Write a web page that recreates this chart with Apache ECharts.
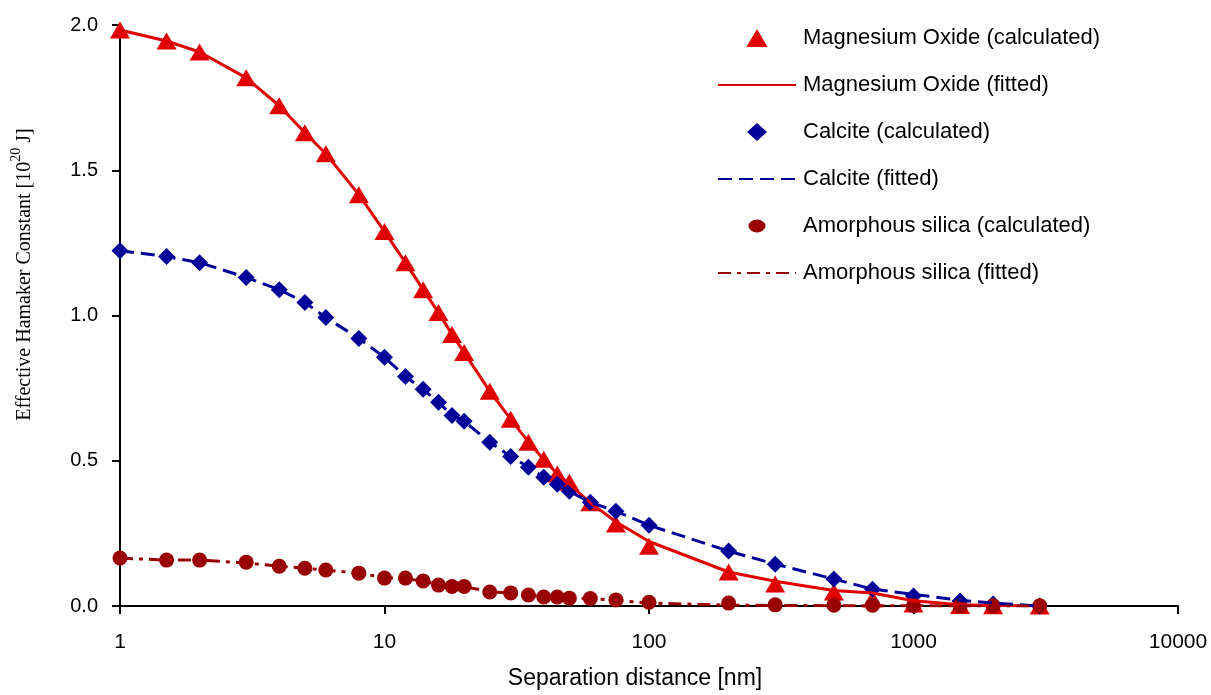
<!DOCTYPE html>
<html>
<head>
<meta charset="utf-8">
<script src="https://cdn.jsdelivr.net/npm/echarts@6/dist/echarts.min.js"></script>
<style>
  html, body { margin: 0; padding: 0; background: #fff; }
  #chart { width: 1211px; height: 695px; }
</style>
</head>
<body>
<div id="chart"></div>
<script>
// separation distance [nm]
var distances = [1, 1.5, 2, 3, 4, 5, 6, 8, 10, 12, 14, 16, 18, 20, 25, 30, 35, 40, 45, 50, 60, 75, 100, 200, 300, 500, 700, 1000, 1500, 2000, 3000];

// effective Hamaker constant [10^20 J]
var mgoCalc = [1.983, 1.945, 1.907, 1.818, 1.722, 1.629, 1.557, 1.416, 1.289, 1.182, 1.089, 1.010, 0.935, 0.873, 0.739, 0.643, 0.564, 0.505, 0.454, 0.426, 0.355, 0.282, 0.206, 0.117, 0.076, 0.048, 0.024, 0.007, 0.002, 0.001, 0.000];
var mgoFit = [1.983, 1.945, 1.907, 1.818, 1.722, 1.629, 1.557, 1.416, 1.289, 1.182, 1.089, 1.010, 0.935, 0.873, 0.739, 0.643, 0.564, 0.505, 0.454, 0.420, 0.355, 0.290, 0.222, 0.117, 0.085, 0.053, 0.045, 0.018, 0.004, 0.002, 0.001];
var calciteCalc = [1.223, 1.203, 1.182, 1.131, 1.089, 1.045, 0.993, 0.921, 0.856, 0.790, 0.746, 0.701, 0.656, 0.636, 0.564, 0.515, 0.478, 0.443, 0.419, 0.395, 0.357, 0.326, 0.278, 0.189, 0.144, 0.093, 0.058, 0.034, 0.017, 0.007, 0.000];
var calciteFit = [1.223, 1.203, 1.182, 1.131, 1.089, 1.045, 0.993, 0.921, 0.856, 0.790, 0.746, 0.701, 0.656, 0.636, 0.564, 0.515, 0.478, 0.443, 0.419, 0.395, 0.357, 0.326, 0.278, 0.189, 0.144, 0.093, 0.058, 0.040, 0.020, 0.010, 0.000];
var silicaCalc = [0.165, 0.158, 0.158, 0.151, 0.137, 0.130, 0.124, 0.113, 0.096, 0.096, 0.086, 0.072, 0.067, 0.067, 0.048, 0.045, 0.038, 0.031, 0.031, 0.027, 0.026, 0.021, 0.013, 0.010, 0.004, 0.003, 0.003, 0.002, 0.001, 0.001, 0.001];
var silicaFit = [0.165, 0.158, 0.158, 0.148, 0.137, 0.130, 0.124, 0.113, 0.098, 0.094, 0.086, 0.074, 0.068, 0.066, 0.050, 0.044, 0.038, 0.032, 0.030, 0.027, 0.025, 0.020, 0.010, 0.003, 0.002, 0.001, 0.001, 0.001, 0.000, 0.000, 0.000];

var xTicks = [1, 10, 100, 1000, 10000];
var yTicks = ['0.0', '0.5', '1.0', '1.5', '2.0'];

var RED = '#e00000';
var BLUE = '#000099';
var DARKRED = '#990000';

// legend marker shapes (move-to points pad the box so keepAspect gives the right size)
var ICON_TRI = 'path://M10,1L20,18L0,18Z';
var ICON_DIA = 'path://M10,0L20,9L10,18L0,9Z';
var ICON_DOT = 'path://M0,0M18,18M0.5,9A8.5,6.5 0 1,0 17.5,9A8.5,6.5 0 1,0 0.5,9Z';
var NO_MARK = { color: 'rgba(0,0,0,0)', borderColor: 'rgba(0,0,0,0)', borderWidth: 0 };

function pairs(arr) {
  return distances.map(function (d, i) { return [d, arr[i]]; });
}

var chart = echarts.init(document.getElementById('chart'));

var option = {
  animation: false,
  backgroundColor: '#fff',
  grid: { left: 120, right: 33, top: 25, bottom: 88, containLabel: false },
  legend: {
    orient: 'vertical',
    left: 712,
    top: 22,
    itemWidth: 78,
    itemHeight: 18,
    itemGap: 25,
    symbolKeepAspect: true,
    textStyle: {
      fontFamily: 'Liberation Sans, Arial, sans-serif',
      fontSize: 22,
      color: '#000',
      padding: [0, 0, 0, 2]
    },
    data: [
      { name: 'Magnesium Oxide (calculated)', icon: ICON_TRI },
      { name: 'Magnesium Oxide (fitted)', itemStyle: NO_MARK },
      { name: 'Calcite (calculated)', icon: ICON_DIA },
      { name: 'Calcite (fitted)', itemStyle: NO_MARK },
      { name: 'Amorphous silica (calculated)', icon: ICON_DOT },
      { name: 'Amorphous silica (fitted)', itemStyle: NO_MARK }
    ]
  },
  xAxis: {
    type: 'log',
    logBase: 10,
    min: 1,
    max: 10000,
    name: 'Separation distance [nm]',
    nameLocation: 'middle',
    nameGap: 61,
    nameTextStyle: {
      fontFamily: 'Liberation Sans, Arial, sans-serif',
      fontSize: 23,
      color: '#000',
      padding: [0, 28, 0, 0]
    },
    axisLine: { lineStyle: { color: '#000', width: 2 } },
    axisTick: { show: true, length: 8, lineStyle: { color: '#000', width: 2 } },
    axisLabel: {
      margin: 26,
      fontFamily: 'Liberation Sans, Arial, sans-serif',
      fontSize: 21,
      color: '#000',
      formatter: function (v) {
        var r = Math.round(v);
        return xTicks.indexOf(r) >= 0 ? String(r) : '';
      }
    },
    splitLine: { show: false },
    minorTick: { show: false }
  },
  yAxis: {
    type: 'value',
    min: 0,
    max: 2,
    interval: 0.5,
    name: '{t|Effective Hamaker Constant [10}{s|20}{t| J]}',
    nameLocation: 'middle',
    nameRotate: 90,
    nameGap: 85,
    nameTextStyle: {
      padding: [0, 0, 0, 82],
      rich: {
        t: { fontFamily: 'Liberation Serif, Times New Roman, serif', fontSize: 20, color: '#000', lineHeight: 26, verticalAlign: 'bottom' },
        s: { fontFamily: 'Liberation Serif, Times New Roman, serif', fontSize: 14, color: '#000', lineHeight: 15, verticalAlign: 'top' }
      }
    },
    axisLine: { show: true, lineStyle: { color: '#000', width: 2 } },
    axisTick: { show: true, length: 8, lineStyle: { color: '#000', width: 2 } },
    axisLabel: {
      margin: 22,
      fontFamily: 'Liberation Sans, Arial, sans-serif',
      fontSize: 20,
      color: '#000',
      formatter: function (v) { return yTicks[Math.round(v / 0.5)]; }
    },
    splitLine: { show: false }
  },
  series: [
    {
      name: 'Magnesium Oxide (calculated)',
      type: 'scatter',
      symbol: 'triangle',
      symbolSize: [20, 17],
      itemStyle: { color: RED, opacity: 1 },
      data: pairs(mgoCalc)
    },
    {
      name: 'Magnesium Oxide (fitted)',
      type: 'line',
      symbol: 'none',
      showSymbol: false,
      itemStyle: { color: RED },
      lineStyle: { color: RED, width: 3, type: 'solid' },
      data: pairs(mgoFit)
    },
    {
      name: 'Calcite (calculated)',
      type: 'scatter',
      symbol: 'diamond',
      symbolSize: [17, 17],
      itemStyle: { color: BLUE, opacity: 1 },
      data: pairs(calciteCalc)
    },
    {
      name: 'Calcite (fitted)',
      type: 'line',
      symbol: 'none',
      showSymbol: false,
      itemStyle: { color: BLUE },
      lineStyle: { color: BLUE, width: 3, type: [14, 7] },
      data: pairs(calciteFit)
    },
    {
      name: 'Amorphous silica (calculated)',
      type: 'scatter',
      symbol: 'circle',
      symbolSize: [15, 15],
      itemStyle: { color: DARKRED, opacity: 1 },
      data: pairs(silicaCalc)
    },
    {
      name: 'Amorphous silica (fitted)',
      type: 'line',
      symbol: 'none',
      showSymbol: false,
      itemStyle: { color: DARKRED },
      lineStyle: { color: DARKRED, width: 3, type: [13, 6, 4, 6] },
      data: pairs(silicaFit)
    }
  ]
};

chart.setOption(option);
</script>
</body>
</html>
